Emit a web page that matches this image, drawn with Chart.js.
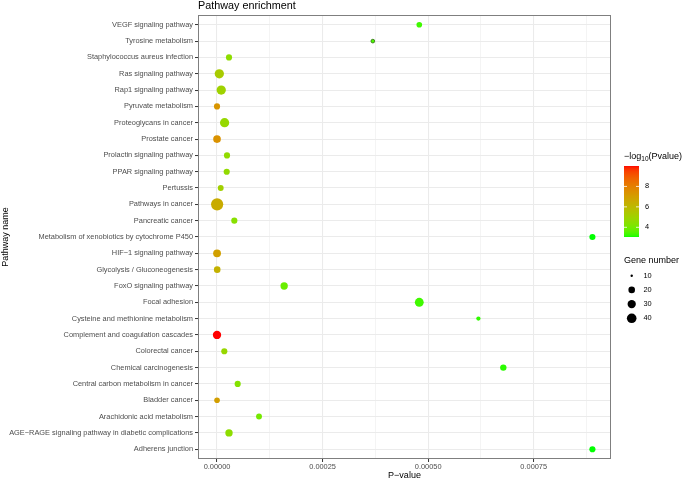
<!DOCTYPE html>
<html>
<head>
<meta charset="utf-8">
<script src="https://cdn.jsdelivr.net/npm/chart.js@4.4.0/dist/chart.umd.min.js"></script>
<style>
  body { margin: 0; background: #fff; }
  canvas { display: block; }
</style>
</head>
<body>
<canvas id="dotChart" width="685" height="479"></canvas>
<script>
// pathways, listed top to bottom as they appear on the y axis
const pathways = [
  "VEGF signaling pathway",
  "Tyrosine metabolism",
  "Staphylococcus aureus infection",
  "Ras signaling pathway",
  "Rap1 signaling pathway",
  "Pyruvate metabolism",
  "Proteoglycans in cancer",
  "Prostate cancer",
  "Prolactin signaling pathway",
  "PPAR signaling pathway",
  "Pertussis",
  "Pathways in cancer",
  "Pancreatic cancer",
  "Metabolism of xenobiotics by cytochrome P450",
  "HIF\u22121 signaling pathway",
  "Glycolysis / Gluconeogenesis",
  "FoxO signaling pathway",
  "Focal adhesion",
  "Cysteine and methionine metabolism",
  "Complement and coagulation cascades",
  "Colorectal cancer",
  "Chemical carcinogenesis",
  "Central carbon metabolism in cancer",
  "Bladder cancer",
  "Arachidonic acid metabolism",
  "AGE\u2212RAGE signaling pathway in diabetic complications",
  "Adherens junction"
];
const pValues = [
  0.000479, 0.000369, 0.0000284, 0.0000055, 0.00001, 5e-8, 0.000018, 4e-8, 0.0000237,
  0.000023, 0.0000088, 3e-7, 0.000041, 0.000889, 1.2e-7, 5e-7, 0.000159, 0.000479,
  0.000619, 1e-10, 0.0000173, 0.000678, 0.000049, 1e-7, 0.0000995, 0.0000284, 0.000889
];
const geneCounts = [
  16, 11, 18, 37, 37, 18, 37, 26, 18,
  18, 17, 65, 18, 18, 27, 20, 24, 34,
  12, 30, 18, 19, 18, 16, 17, 24, 18
];

const xTickValues = [0, 0.00025, 0.0005, 0.00075];
const xTickLabels = ["0.00000", "0.00025", "0.00050", "0.00075"];
const colorTicks = [4, 6, 8];
const sizeBreaks = [10, 20, 30, 40];

const FONT = '"Liberation Sans", Arial, Helvetica, sans-serif';

// -log10(p) colour scale, green -> red interpolated in Lab like ggplot
const logP = pValues.map(p => -Math.log10(p));
const vMin = Math.min(...logP);
const vMax = Math.max(...logP);

const WHITE = [0.95047, 1, 1.08883];
const toLin = c => c <= 0.04045 ? c / 12.92 : Math.pow((c + 0.055) / 1.055, 2.4);
const fromLin = c => c <= 0.0031308 ? 12.92 * c : 1.055 * Math.pow(c, 1 / 2.4) - 0.055;

function hexToLab(hex) {
  const [r, g, b] = [1, 3, 5].map(i => toLin(parseInt(hex.slice(i, i + 2), 16) / 255));
  const X = 0.4124 * r + 0.3576 * g + 0.1805 * b;
  const Y = 0.2126 * r + 0.7152 * g + 0.0722 * b;
  const Z = 0.0193 * r + 0.1192 * g + 0.9505 * b;
  const f = t => t > 0.008856 ? Math.cbrt(t) : 7.787 * t + 16 / 116;
  const fx = f(X / WHITE[0]), fy = f(Y / WHITE[1]), fz = f(Z / WHITE[2]);
  return [116 * fy - 16, 500 * (fx - fy), 200 * (fy - fz)];
}

function labToCss([L, a, b]) {
  const fy = (L + 16) / 116, fx = fy + a / 500, fz = fy - b / 200;
  const inv = t => t * t * t > 0.008856 ? t * t * t : (t - 16 / 116) / 7.787;
  const X = inv(fx) * WHITE[0], Y = inv(fy), Z = inv(fz) * WHITE[2];
  const rgb = [
    3.2406 * X - 1.5372 * Y - 0.4986 * Z,
    -0.9689 * X + 1.8758 * Y + 0.0415 * Z,
    0.0557 * X - 0.2040 * Y + 1.0570 * Z
  ].map(c => Math.round(Math.min(1, Math.max(0, fromLin(c))) * 255));
  return `rgb(${rgb.join(",")})`;
}

const lowLab = hexToLab("#00FF00");
const highLab = hexToLab("#FF0000");
function colorFor(v) {
  const t = Math.min(1, Math.max(0, (v - vMin) / (vMax - vMin)));
  return labToCss(lowLab.map((c, i) => c + (highLab[i] - c) * t));
}

// point radius from gene count (area scaled)
function radiusFor(g) {
  return 1.2 + 4.9 * Math.sqrt(Math.max(0, g - 10) / 55);
}

const points = pathways.map((name, i) => ({ x: pValues[i], y: i }));

const isMajor = v => xTickValues.some(m => Math.abs(m - v) < 1e-12);
const xGrid = xTickValues.concat(xTickValues.map(v => v + 0.000125));

const decorations = {
  id: "decorations",
  afterDraw(chart) {
    const { ctx, chartArea: a } = chart;
    ctx.save();

    // panel border
    ctx.strokeStyle = "#7f7f7f";
    ctx.lineWidth = 1;
    ctx.strokeRect(Math.round(a.left) + 0.5, Math.round(a.top) + 0.5,
      Math.round(a.right - a.left) - 1, Math.round(a.bottom - a.top) - 1);

    // title
    ctx.fillStyle = "#000";
    ctx.textBaseline = "alphabetic";
    ctx.textAlign = "left";
    ctx.font = `10.8px ${FONT}`;
    ctx.fillText("Pathway enrichment", a.left, 8.5);

    // colour legend title with subscript
    let x = 624;
    ctx.font = `9px ${FONT}`;
    ctx.fillText("\u2212log", x, 158.5);
    x += ctx.measureText("\u2212log").width;
    ctx.font = `6.5px ${FONT}`;
    ctx.fillText("10", x, 160.5);
    x += ctx.measureText("10").width;
    ctx.font = `9px ${FONT}`;
    ctx.fillText("(Pvalue)", x, 158.5);

    // colour bar, one row per pixel
    const cb = { x: 624, y: 166, w: 15, h: 71 };
    for (let i = 0; i < cb.h; i++) {
      const v = vMin + (i + 0.5) / cb.h * (vMax - vMin);
      ctx.fillStyle = colorFor(v);
      ctx.fillRect(cb.x, cb.y + cb.h - i - 1, cb.w, 1);
    }
    ctx.font = `7.4px ${FONT}`;
    ctx.textBaseline = "middle";
    colorTicks.forEach(v => {
      const y = cb.y + cb.h - (v - vMin) / (vMax - vMin) * cb.h;
      ctx.strokeStyle = "#fff";
      ctx.lineWidth = 0.8;
      ctx.beginPath();
      ctx.moveTo(cb.x, y); ctx.lineTo(cb.x + 3, y);
      ctx.moveTo(cb.x + cb.w - 3, y); ctx.lineTo(cb.x + cb.w, y);
      ctx.stroke();
      ctx.fillStyle = "#000";
      ctx.fillText(String(v), cb.x + cb.w + 6, y);
    });

    // size legend
    ctx.textBaseline = "alphabetic";
    ctx.font = `9px ${FONT}`;
    ctx.fillText("Gene number", 624, 263);
    ctx.font = `7.4px ${FONT}`;
    ctx.textBaseline = "middle";
    sizeBreaks.forEach((g, i) => {
      const y = 275.7 + i * 14.2;
      ctx.fillStyle = "#000";
      ctx.beginPath();
      ctx.arc(631.7, y, radiusFor(g), 0, Math.PI * 2);
      ctx.fill();
      ctx.fillText(String(g), 643.5, y);
    });

    ctx.restore();
  }
};

new Chart(document.getElementById("dotChart").getContext("2d"), {
  type: "scatter",
  data: {
    datasets: [{
      data: points,
      pointRadius: ctx => radiusFor(geneCounts[ctx.dataIndex]),
      pointBackgroundColor: ctx => colorFor(logP[ctx.dataIndex]),
      pointBorderColor: "#2f6f10",
      pointBorderWidth: ctx => geneCounts[ctx.dataIndex] <= 11 ? 0.8 : 0,
      pointHoverRadius: ctx => radiusFor(geneCounts[ctx.dataIndex])
    }]
  },
  options: {
    responsive: false,
    devicePixelRatio: 1,
    animation: false,
    events: [],
    layout: { padding: { top: 15, right: 74, left: 0, bottom: 0 } },
    plugins: {
      legend: { display: false },
      tooltip: { enabled: false }
    },
    scales: {
      x: {
        type: "linear",
        min: -0.000045,
        max: 0.000933,
        afterBuildTicks: scale => { scale.ticks = xGrid.map(v => ({ value: v })); },
        afterFit: scale => { scale.height = 20; },
        ticks: {
          autoSkip: false,
          maxRotation: 0,
          padding: 1,
          color: "#4D4D4D",
          font: { family: FONT, size: 7.4 },
          callback: v => isMajor(v) ? xTickLabels[xTickValues.findIndex(m => Math.abs(m - v) < 1e-12)] : ""
        },
        grid: {
          color: "#EBEBEB",
          lineWidth: ctx => ctx.tick && isMajor(ctx.tick.value) ? 1.07 : 0.53,
          tickColor: ctx => ctx.tick && isMajor(ctx.tick.value) ? "#333333" : "rgba(0,0,0,0)",
          tickLength: 3,
          tickWidth: 1
        },
        border: { display: false },
        title: {
          display: true,
          text: "P\u2212value",
          color: "#000",
          font: { family: FONT, size: 9 },
          padding: { top: 0, bottom: -2 }
        }
      },
      y: {
        type: "linear",
        reverse: true,
        min: -0.6,
        max: pathways.length - 0.4,
        afterBuildTicks: scale => { scale.ticks = pathways.map((_, i) => ({ value: i })); },
        afterFit: scale => { scale.width = 198; },
        ticks: {
          autoSkip: false,
          padding: 2,
          color: "#4D4D4D",
          font: { family: FONT, size: 7.4 },
          callback: v => pathways[v]
        },
        grid: {
          color: "#EBEBEB",
          lineWidth: 1.07,
          tickColor: "#333333",
          tickLength: 3,
          tickWidth: 1
        },
        border: { display: false },
        title: {
          display: true,
          text: "Pathway name",
          color: "#000",
          font: { family: FONT, size: 9 },
          padding: { top: 0, bottom: 0 }
        }
      }
    }
  },
  plugins: [decorations]
});
</script>
</body>
</html>
